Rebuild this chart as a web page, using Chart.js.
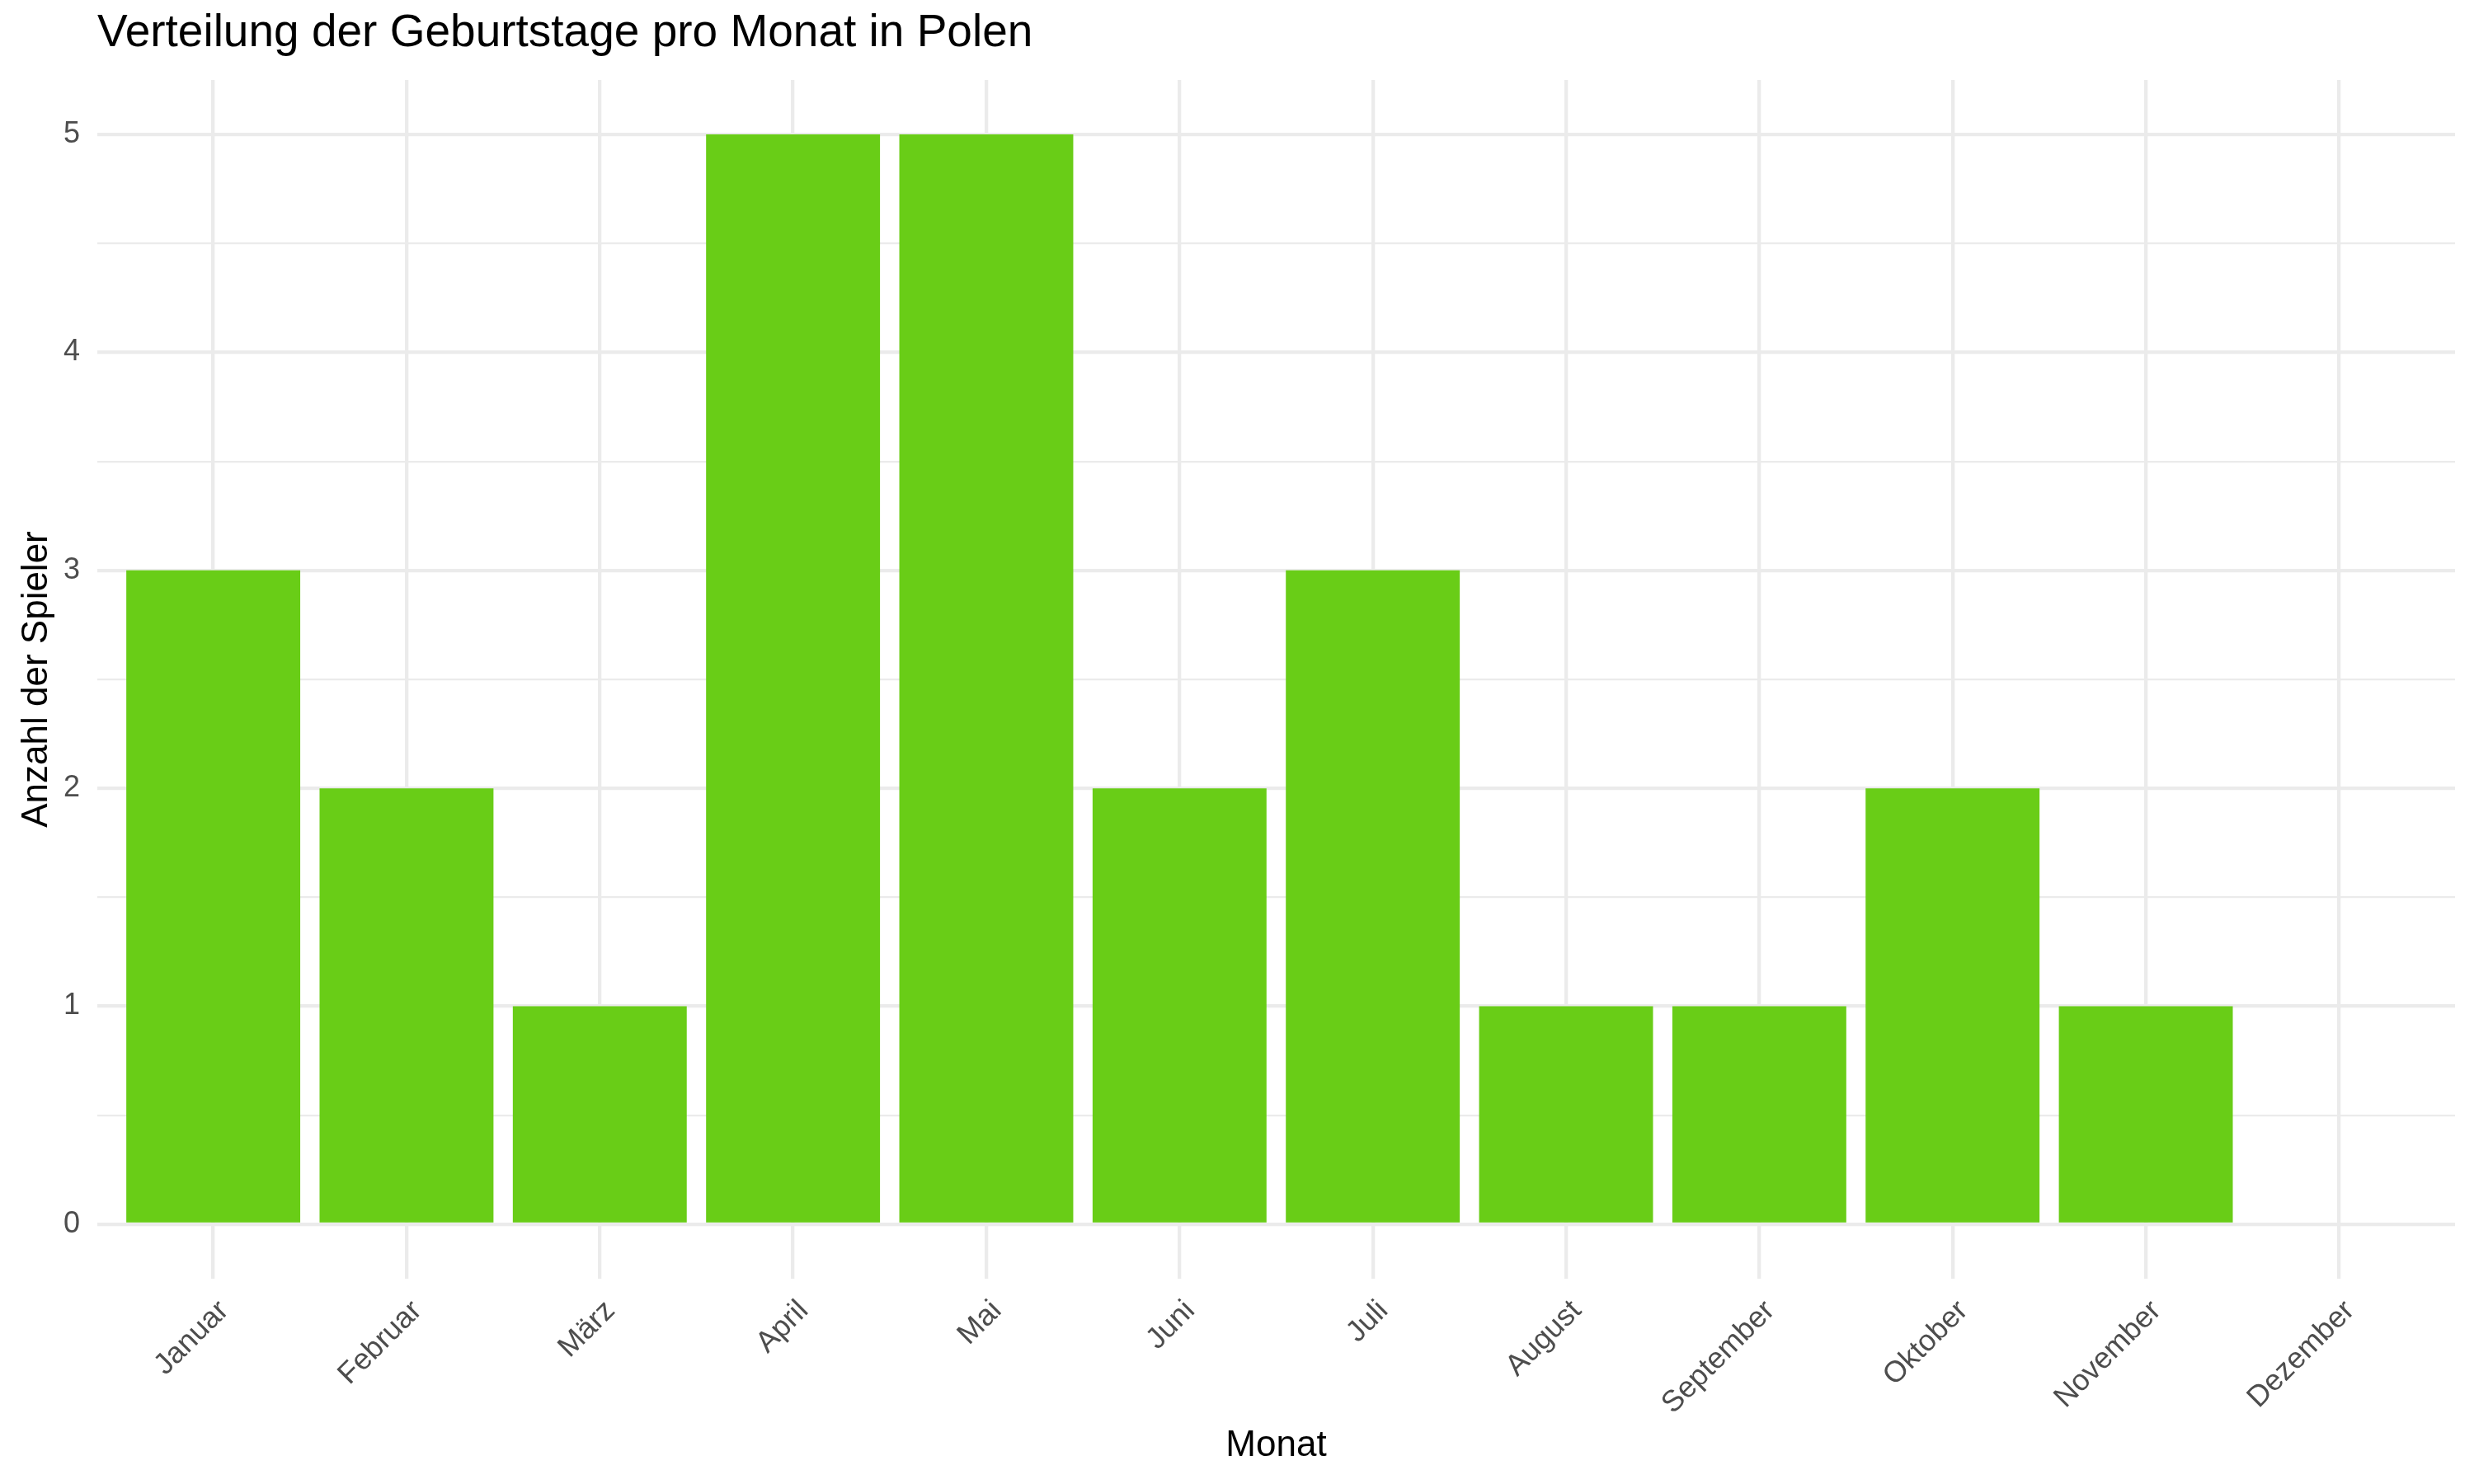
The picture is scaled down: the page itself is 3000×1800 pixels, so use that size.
<!DOCTYPE html>
<html>
<head>
<meta charset="utf-8">
<script src="https://cdn.jsdelivr.net/npm/chart.js@4/dist/chart.umd.min.js"></script>
<style>
  html, body { margin: 0; padding: 0; background: #ffffff; }
  #wrap { width: 3000px; height: 1800px; }
</style>
</head>
<body>
<div id="wrap"><canvas id="c" width="3000" height="1800"></canvas></div>
<script>
const months = ["Januar", "Februar", "März", "April", "Mai", "Juni", "Juli", "August", "September", "Oktober", "November", "Dezember"];
const counts = [3, 2, 1, 5, 5, 2, 3, 1, 1, 2, 1, 0];
const yTicks = [0, 0.5, 1, 1.5, 2, 2.5, 3, 3.5, 4, 4.5, 5];

const FONT = '"Liberation Sans", Arial, Helvetica, sans-serif';
const GRID = '#EBEBEB';

const points = months.map((m, i) => ({ x: i, y: counts[i] }));

new Chart(document.getElementById('c'), {
  type: 'bar',
  data: {
    datasets: [{
      data: points,
      backgroundColor: '#69CD17',
      borderWidth: 0,
      categoryPercentage: 0.9,
      barPercentage: 1.0
    }]
  },
  options: {
    responsive: false,
    animation: false,
    devicePixelRatio: 1,
    layout: { padding: { left: 0, right: 23, top: 0, bottom: 0 } },
    plugins: {
      legend: { display: false },
      tooltip: { enabled: false },
      title: {
        display: true,
        text: 'Verteilung der Geburtstage pro Monat in Polen',
        align: 'start',
        fullSize: false,
        color: '#000000',
        font: { family: FONT, size: 55, weight: 'normal', lineHeight: 1.2 },
        padding: { top: 8, bottom: 23 }
      }
    },
    scales: {
      x: {
        type: 'linear',
        min: -0.6,
        max: 11.6,
        offset: false,
        afterBuildTicks: (scale) => { scale.ticks = months.map((m, i) => ({ value: i })); },
        afterFit: (scale) => { scale.height = 249; },
        grid: { color: GRID, lineWidth: 4.3, drawTicks: false, offset: false },
        border: { display: false },
        ticks: {
          autoSkip: false,
          minRotation: 45,
          maxRotation: 45,
          padding: 18,
          labelOffset: 13,
          color: '#4D4D4D',
          font: { family: FONT, size: 36 },
          callback: (v) => months[v]
        },
        title: {
          display: true,
          text: 'Monat',
          color: '#000000',
          font: { family: FONT, size: 44, lineHeight: 1.2 },
          padding: { top: 0, bottom: 20 }
        }
      },
      y: {
        type: 'linear',
        min: -0.25,
        max: 5.25,
        afterBuildTicks: (scale) => { scale.ticks = yTicks.map(v => ({ value: v })); },
        afterFit: (scale) => { scale.width = 118; },
        grid: {
          color: GRID,
          lineWidth: (ctx) => (ctx.tick && Number.isInteger(ctx.tick.value)) ? 4.3 : 2.15,
          drawTicks: false
        },
        border: { display: false },
        ticks: {
          autoSkip: false,
          padding: 21,
          color: '#4D4D4D',
          font: { family: FONT, size: 36 },
          callback: (v) => Number.isInteger(v) ? String(v) : ''
        },
        title: {
          display: true,
          text: 'Anzahl der Spieler',
          color: '#000000',
          font: { family: FONT, size: 44, lineHeight: 1.2 },
          padding: { top: 18, bottom: 0 }
        }
      }
    }
  }
});
</script>
</body>
</html>
